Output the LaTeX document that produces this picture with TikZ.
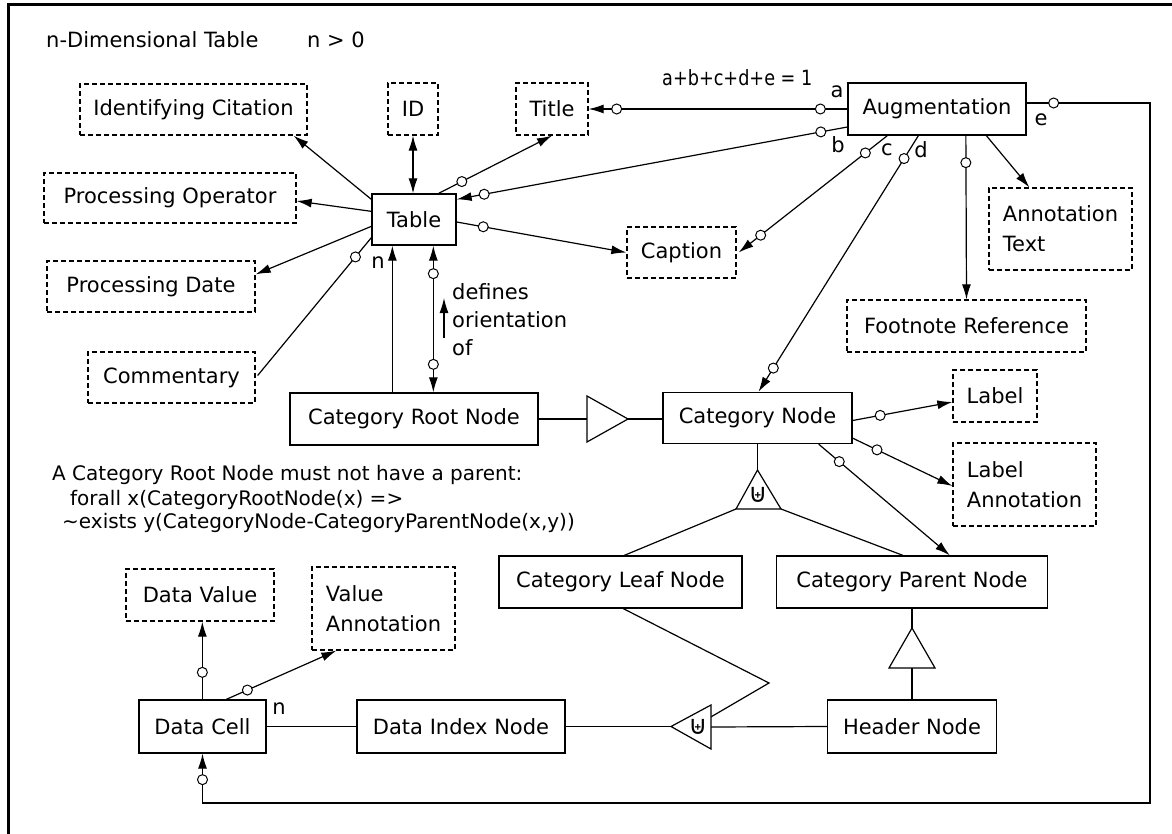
\documentclass[tikz,border=0pt]{standalone}
\usepackage{fontspec}
\usepackage{graphicx}
\setmainfont{DejaVu Sans}
\usetikzlibrary{arrows.meta,calc}
\begin{document}
\begin{tikzpicture}[x=1pt,y=-1pt,
  box/.style={draw,line width=1.3pt,inner sep=0pt,align=center,font=\fontsize{21}{30}\selectfont},
  dbox/.style={box,dash pattern=on 5pt off 3pt},
  lbl/.style={inner sep=0pt,font=\fontsize{21}{28}\selectfont},
  note/.style={inner sep=0pt,anchor=west,font=\fontsize{20}{24}\selectfont},
  con/.style={line width=1.2pt},
  arr/.style={-{Latex[length=15pt,width=9pt]}},
  arrr/.style={{Latex[length=15pt,width=9pt]}-{Latex[length=15pt,width=9pt]}},
  oc/.style={circle,draw,fill=white,line width=1pt,inner sep=0pt,minimum size=10pt},
  tri/.style={draw,line width=1.2pt,fill=white,line join=miter},
  usym/.style={inner sep=0pt,font=\fontsize{26}{26}\selectfont}]
\useasboundingbox (0,0) rectangle (1172,834);
\draw[line width=3pt] (1172,5) -- (8,5) -- (8,834);

% texts
\node[lbl,anchor=west] (ttl) at (46,40) {n-Dimensional Table};
\node[lbl,anchor=west] (ncond) at (307,40) {n > 0};
\node[lbl,anchor=west] (sumc) at (662,78) {\scalebox{0.84}[1]{a+b+c+d+e = 1}};
\node[note] (n1) at (52,475) {A Category Root Node must not have a parent:};
\node[note] (n2) at (70,500) {forall x(CategoryRootNode(x) =>};
\node[note] (n3) at (62,523) {\textasciitilde exists y(CategoryNode-CategoryParentNode(x,y))};

% boxes
\node[dbox,minimum width=227pt,minimum height=51pt] (IdCit) at (193.5,109.5) {Identifying Citation};
\node[dbox,minimum width=50pt,minimum height=52pt] (ID) at (413,109) {ID};
\node[dbox,minimum width=72pt,minimum height=52pt] (Title) at (552,109) {Title};
\node[box,minimum width=178pt,minimum height=52pt] (Aug) at (937,109) {Augmentation};
\node[box,minimum width=84pt,minimum height=51pt] (Table) at (414,219.5) {Table};
\node[dbox,minimum width=252pt,minimum height=50pt] (ProcOp) at (170,198) {Processing Operator};
\node[dbox,minimum width=208pt,minimum height=51pt] (ProcDate) at (151,286.5) {Processing Date};
\node[dbox,minimum width=167pt,minimum height=51pt] (Comment) at (171.5,377.5) {Commentary};
\node[dbox,minimum width=109pt,minimum height=51pt] (Caption) at (681.5,252.5) {Caption};
\node[dbox,align=left,minimum width=143pt,minimum height=82pt] (AnnText) at (1060.5,229) {Annotation\\Text};
\node[dbox,minimum width=239pt,minimum height=52pt] (Foot) at (966.5,326) {Footnote Reference};
\node[dbox,minimum width=84pt,minimum height=52pt] (Label) at (995,396) {Label};
\node[dbox,align=left,minimum width=143pt,minimum height=83pt] (LabelAnn) at (1024.5,484.5) {Label\\Annotation};
\node[box,minimum width=248pt,minimum height=52pt] (RootN) at (414,419) {Category Root Node};
\node[box,minimum width=189pt,minimum height=51pt] (CatN) at (757.5,418) {Category Node};
\node[box,minimum width=243pt,minimum height=52pt] (Leaf) at (620.5,582) {Category Leaf Node};
\node[box,minimum width=271pt,minimum height=52pt] (Parent) at (912,582) {Category Parent Node};
\node[box,minimum width=169pt,minimum height=53pt] (Header) at (912,726.5) {Header Node};
\node[box,minimum width=208pt,minimum height=53pt] (DataIdx) at (461,726.5) {Data Index Node};
\node[box,minimum width=127pt,minimum height=53pt] (DataCell) at (202.5,726.5) {Data Cell};
\node[dbox,minimum width=148pt,minimum height=52pt] (DataVal) at (200,595) {Data Value};
\node[dbox,align=left,minimum width=143pt,minimum height=83pt] (ValAnn) at (383.5,608.5) {Value\\Annotation};

% Table connectors
\draw[con,arr] ($(Table.north west)+(0,6)$) -- ($(IdCit.south east)+(-14,0)$);
\draw[con,arrr] (ID.south) -- (ID.south |- Table.north);
\coordinate (c3a) at ($(Table.north east)+(-18,0)$);
\coordinate (c3b) at (Title.south);
\draw[con,arr] (c3a) -- (c3b);
\node[oc] at ($(c3a)!26pt!(c3b)$) {};
\draw[con,arr] ($(Table.north west)+(0,18)$) -- ($(ProcOp.east)+(0,3)$);
\draw[con,arr] ($(Table.north west)+(0,33)$) -- ($(ProcDate.north east)+(0,14)$);
\coordinate (c14a) at ($(Table.south west)+(0,-8)$);
\coordinate (c14b) at ($(Comment.east)+(2,-2)$);
\draw[con] (c14a) -- (c14b);
\node[oc] at ($(c14a)!25pt!(c14b)$) {};
\coordinate (c11a) at ($(Table.east)+(0,2.5)$);
\draw[con,arr] (c11a) -- (Caption.west);
\node[oc] at ($(c11a)!27pt!(Caption.west)$) {};

% Augmentation connectors
\coordinate (ca1) at (Aug.west);
\draw[con,arr] (ca1) -- (Title.east);
\node[oc] at ($(ca1)!27pt!(Title.east)$) {};
\node[oc] at ($(Title.east)!28pt!(ca1)$) {};
\node[lbl] (la) at (837,92) {a};
\coordinate (cb1) at ($(Aug.west)+(0,18)$);
\coordinate (cb2) at ($(Table.north east)+(0,6)$);
\draw[con,arr] (cb1) -- (cb2);
\node[oc] at ($(cb1)!27pt!(cb2)$) {};
\node[oc] at ($(cb2)!28pt!(cb1)$) {};
\node[lbl] (lb) at (838,145) {b};
\coordinate (cc1) at ($(Aug.south west)+(40,0)$);
\coordinate (cc2) at ($(Caption.east)+(2,0)$);
\draw[con,arr] (cc1) -- (cc2);
\node[oc] at ($(cc1)!28pt!(cc2)$) {};
\node[oc] at ($(cc2)!28pt!(cc1)$) {};
\node[lbl] (lc) at (887,150) {c};
\coordinate (cd1) at ($(Aug.south west)+(71,0)$);
\coordinate (cd2) at ($(CatN.north)+(1,0)$);
\draw[con,arr] (cd1) -- (cd2);
\node[oc] at ($(cd1)!27pt!(cd2)$) {};
\node[oc] at ($(cd2)!28pt!(cd1)$) {};
\node[lbl] (ld) at (921,150) {d};
\coordinate (cf1) at ($(Aug.south west)+(118.5,0)$);
\draw[con,arr] (cf1) -- (Foot.north);
\node[oc] at ($(cf1)+(0,27)$) {};
\draw[con,arr] ($(Aug.south west)+(139,0)$) -- ($(AnnText.north west)+(41,0)$);
\coordinate (ce1) at ($(Aug.east)+(0,-6)$);
\coordinate (ecor) at (1150,803);
\draw[con,arr] (ce1) -- (ce1 -| ecor) -- (ecor) -- (ecor -| DataCell.south) -- (DataCell.south);
\node[oc] at ($(ce1)+(27,0)$) {};
\node[oc] at ($(DataCell.south)+(0,26)$) {};
\node[lbl] (le) at (1041,120) {e};

% Root node connectors
\draw[con,arr] ($(RootN.north west)+(103,0)$) -- ($(Table.south west)+(21,0)$);
\node[lbl] (ln) at (378,263) {n};
\coordinate (co1) at ($(Table.south west)+(62,0)$);
\coordinate (co2) at ($(RootN.north west)+(144,0)$);
\draw[con,arrr] (co1) -- (co2);
\node[oc] at ($(co1)+(0,28)$) {};
\node[oc] at ($(co2)+(0,-28)$) {};
\coordinate (sa1) at (444,338);
\coordinate (sa2) at (444,298);
\draw[con,arr] (sa1) -- (sa2);
\node[lbl,align=left,anchor=west] (defo) at (452,320) {defines\\orientation\\of};

% generalisation root -> category node
\coordinate (g1b1) at (587,396);
\coordinate (g1b2) at (587,442);
\coordinate (g1tip) at (628,419);
\draw[con] (RootN.east) -- (RootN.east -| g1b1);
\draw[tri] (g1b1) -- (g1tip) -- (g1b2) -- cycle;
\draw[con] (g1tip) -- (g1tip -| CatN.west);

% category node connectors
\coordinate (cl1) at ($(CatN.east)+(0,2.5)$);
\coordinate (cl2) at ($(Label.west)+(0,6)$);
\draw[con,arr] (cl1) -- (cl2);
\node[oc] at ($(cl1)!28pt!(cl2)$) {};
\coordinate (cm1) at ($(CatN.south east)+(0,-6)$);
\coordinate (cm2) at ($(LabelAnn.west)+(0,1.5)$);
\draw[con,arr] (cm1) -- (cm2);
\node[oc] at ($(cm1)!27pt!(cm2)$) {};
\coordinate (cp1) at ($(CatN.south east)+(-34,0)$);
\coordinate (cp2) at ($(Parent.north west)+(174,0)$);
\draw[con,arr] (cp1) -- (cp2);
\node[oc] at ($(cp1)!27pt!(cp2)$) {};

% disjoint partition of category node
\coordinate (d1top) at (757.5,470);
\coordinate (d1l) at (736,509);
\coordinate (d1r) at (781,509);
\draw[con] (CatN.south) -- (d1top);
\draw[con] (d1l) -- ($(Leaf.north west)+(126,0)$);
\draw[con] (d1r) -- ($(Parent.north west)+(127,0)$);
\draw[tri] (d1top) -- (d1r) -- (d1l) -- cycle;
\node[usym] (u1) at (758,495) {⊎};

% generalisation parent -> header
\coordinate (g2top) at (912,628);
\coordinate (g2l) at (889,668);
\coordinate (g2r) at (935,668);
\draw[con] (Parent.south) -- (g2top);
\draw[tri] (g2top) -- (g2r) -- (g2l) -- cycle;
\draw[con] ($(g2l)!0.5!(g2r)$) -- (Header.north);

% disjoint data index
\coordinate (d2tip) at (671,726.5);
\coordinate (d2b1) at (711,705);
\coordinate (d2b2) at (711,749);
\draw[con] (DataIdx.east) -- (d2tip);
\draw[con] ($(d2b1)!0.5!(d2b2)$) -- (Header.west);
\coordinate (zz) at (769,683);
\draw[con] ($(Leaf.south west)+(125,0)$) -- (zz) -- ($(d2b1)!0.27!(d2b2)$);
\draw[tri] (d2tip) -- (d2b1) -- (d2b2) -- cycle;
\node[usym] (u2) at (698,727) {⊎};

% data cell connectors
\draw[con] (DataCell.east) -- (DataIdx.west);
\node[lbl] (ln2) at (279,709) {n};
\coordinate (cv1) at ($(DataCell.north west)+(64,0)$);
\draw[con,arr] (cv1) -- (cv1 |- DataVal.south);
\node[oc] at ($(cv1)+(0,-27)$) {};
\coordinate (cw1) at ($(DataCell.north west)+(88,0)$);
\coordinate (cw2) at ($(ValAnn.south west)+(25,0)$);
\draw[con,arr] (cw1) -- (cw2);
\node[oc] at ($(cw1)!23pt!(cw2)$) {};
\end{tikzpicture}
\end{document}
